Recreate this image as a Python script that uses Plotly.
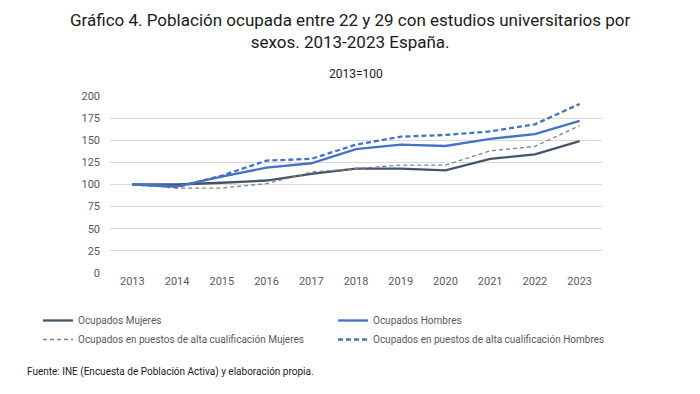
import plotly.graph_objects as go

years = ["2013", "2014", "2015", "2016", "2017", "2018", "2019", "2020", "2021", "2022", "2023"]
ocupados_mujeres = [100, 100, 102, 104.5, 112, 118, 118, 116, 129, 134, 149]
ocupados_hombres = [100, 98, 109, 119, 124, 140, 145, 143.5, 151.5, 157, 172]
alta_mujeres = [100, 96, 96, 101, 114, 118, 122, 122, 138, 143, 166.5]
alta_hombres = [100, 97, 110, 127, 129, 145, 154, 156, 160, 168, 191]
y_ticks = [0, 25, 50, 75, 100, 125, 150, 175, 200]

FONT = "Roboto"
W, H = 700, 394
L, R, T, B = 110, 98, 96, 121
PW, PH = W - L - R, H - T - B


def px_x(x):
    return (x - L) / PW


def px_y(y):
    return (H - B - y) / PH


fig = go.Figure()
fig.add_trace(go.Scatter(x=years, y=ocupados_mujeres, name="Ocupados Mujeres", mode="lines",
                         line=dict(color="#44546A", width=2.3), legend="legend"))
fig.add_trace(go.Scatter(x=years, y=alta_mujeres, name="Ocupados en puestos de alta cualificación Mujeres",
                         mode="lines", line=dict(color="#808080", width=1.3, dash="4px,3px"), legend="legend"))
fig.add_trace(go.Scatter(x=years, y=ocupados_hombres, name="Ocupados Hombres", mode="lines",
                         line=dict(color="#4472C4", width=2.3), legend="legend2"))
fig.add_trace(go.Scatter(x=years, y=alta_hombres, name="Ocupados en puestos de alta cualificación Hombres",
                         mode="lines", line=dict(color="#4472C4", width=2.3, dash="5px,3px"), legend="legend2"))

legend_common = dict(orientation="v", xref="container", yref="container", y=1 - 306 / H,
                     xanchor="left", yanchor="top", font=dict(size=10, color="#595959", family=FONT),
                     itemwidth=30, bgcolor="rgba(0,0,0,0)", tracegroupgap=0, traceorder="normal")

fig.update_layout(
    width=W, height=H,
    paper_bgcolor="white", plot_bgcolor="white",
    margin=dict(l=L, r=R, t=T, b=B, autoexpand=False),
    font=dict(family=FONT, color="#595959", size=11),
    xaxis=dict(type="category", range=[-0.5, 10.5], showgrid=False, showline=False, ticks="",
               tickfont=dict(size=11, color="#595959")),
    yaxis=dict(range=[0, 200], tickvals=y_ticks, showgrid=True, gridcolor="#d9d9d9", gridwidth=1,
               zeroline=False, showline=False, ticks="", ticklabelstandoff=9,
               tickfont=dict(size=11, color="#595959")),
    showlegend=True,
    legend=dict(legend_common, x=38 / W),
    legend2=dict(legend_common, x=333 / W),
    annotations=[
        dict(text="Gráfico 4. Población ocupada entre 22 y 29 con estudios universitarios por<br>sexos. 2013-2023 España.",
             xref="paper", yref="paper", x=px_x(350), y=px_y(31),
             xanchor="center", yanchor="middle", showarrow=False,
             font=dict(size=17, color="#1a1a1a", family=FONT)),
        dict(text="2013=100", xref="paper", yref="paper", x=0.5, y=px_y(74),
             xanchor="center", yanchor="middle", showarrow=False,
             font=dict(size=12, color="#1a1a1a", family=FONT)),
        dict(text="Fuente: INE (Encuesta de Población Activa) y elaboración propia.",
             xref="paper", yref="paper", x=px_x(25), y=px_y(372),
             xanchor="left", yanchor="middle", showarrow=False,
             font=dict(size=10, color="#1a1a1a", family=FONT)),
    ],
)

fig.write_html("out.html", config={"displayModeBar": False},
               post_script="document.body.style.margin='0';")
